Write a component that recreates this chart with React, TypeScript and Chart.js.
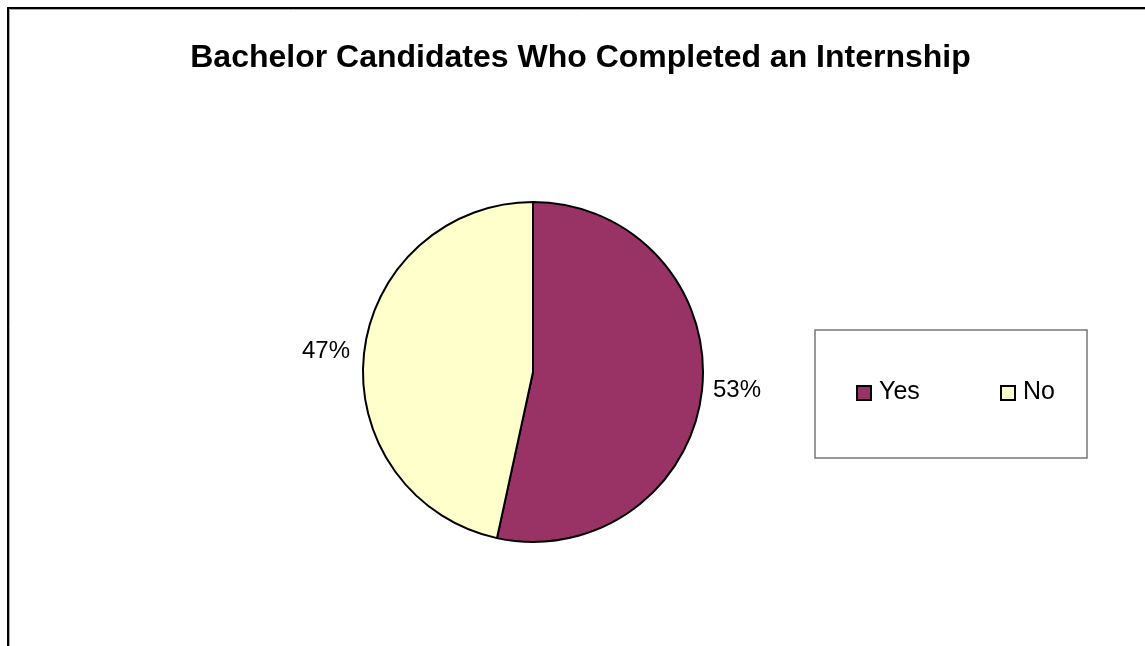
import React, { useEffect, useRef } from "react";
import { Chart, registerables } from "chart.js";

Chart.register(...registerables);

const categories = ["Yes", "No"];
const shares = [53.4, 46.6];
const sliceColors = ["#993366", "#FFFFCC"];
const titleText = "Bachelor Candidates Who Completed an Internship";

const FONT = "'Liberation Sans', Arial, sans-serif";

const decorPlugin = {
  id: "decor",
  afterDraw(chart: any) {
    const ctx = chart.ctx as CanvasRenderingContext2D;
    const W = chart.width;
    const H = chart.height;
    ctx.save();
    // chart area border (top + left only visible)
    ctx.strokeStyle = "#000";
    ctx.lineWidth = 2;
    ctx.beginPath();
    ctx.moveTo(7, 8);
    ctx.lineTo(W, 8);
    ctx.moveTo(8, 7);
    ctx.lineTo(8, H);
    ctx.stroke();
    ctx.strokeStyle = "#aaa";
    ctx.lineWidth = 1;
    ctx.beginPath();
    ctx.moveTo(9.5, 9.5);
    ctx.lineTo(W, 9.5);
    ctx.moveTo(9.5, 9.5);
    ctx.lineTo(9.5, H);
    ctx.stroke();

    // title
    ctx.fillStyle = "#000";
    ctx.font = `bold 32px ${FONT}`;
    ctx.textAlign = "center";
    ctx.textBaseline = "alphabetic";
    ctx.fillText(titleText, 580.5, 67);

    // data labels
    const meta = chart.getDatasetMeta(0);
    const data = chart.data.datasets[0].data as number[];
    const total = data.reduce((a, b) => a + b, 0);
    ctx.font = `24px ${FONT}`;
    ctx.textBaseline = "middle";
    meta.data.forEach((arc: any, i: number) => {
      const p = arc.getProps(["x", "y", "startAngle", "endAngle", "outerRadius"], true);
      const mid = (p.startAngle + p.endAngle) / 2;
      const R = p.outerRadius + 11;
      const x = p.x + Math.cos(mid) * R;
      const y = p.y + Math.sin(mid) * R;
      ctx.textAlign = Math.cos(mid) >= 0 ? "left" : "right";
      const pct = Math.round((data[i] / total) * 100);
      ctx.fillText(pct + "%", Math.cos(mid) >= 0 ? x : x - 3, y - 1);
    });

    // legend box
    ctx.strokeStyle = "#777";
    ctx.lineWidth = 1.5;
    ctx.strokeRect(815, 330, 272, 128);
    const labels = chart.data.labels as string[];
    const colors = chart.data.datasets[0].backgroundColor as string[];
    ctx.font = `25px ${FONT}`;
    ctx.textAlign = "left";
    ctx.textBaseline = "alphabetic";
    labels.forEach((lab, i) => {
      const sx = 857 + i * 144;
      ctx.fillStyle = colors[i];
      ctx.fillRect(sx, 386, 14, 14);
      ctx.strokeStyle = "#000";
      ctx.lineWidth = 2;
      ctx.strokeRect(sx, 386, 14, 14);
      ctx.fillStyle = "#000";
      ctx.fillText(lab, sx + 22, 398.5);
    });
    ctx.restore();
  },
};

export default function App() {
  const ref = useRef<HTMLCanvasElement | null>(null);
  useEffect(() => {
    if (!ref.current) return;
    const chart = new Chart(ref.current, {
      type: "pie",
      data: {
        labels: categories,
        datasets: [
          {
            data: shares,
            backgroundColor: sliceColors,
            borderColor: "#000",
            borderWidth: 2,
          },
        ],
      },
      options: {
        animation: false,
        responsive: true,
        maintainAspectRatio: false,
        layout: { padding: { left: 362, top: 201, right: 441, bottom: 103 } },
        plugins: {
          legend: { display: false },
          title: { display: false },
          tooltip: { enabled: false },
        },
      },
      plugins: [decorPlugin],
    });
    return () => chart.destroy();
  }, []);
  return (
    <div style={{ position: "fixed", left: 0, top: 0, width: 1145, height: 646, background: "#fff" }}>
      <canvas ref={ref} />
    </div>
  );
}
